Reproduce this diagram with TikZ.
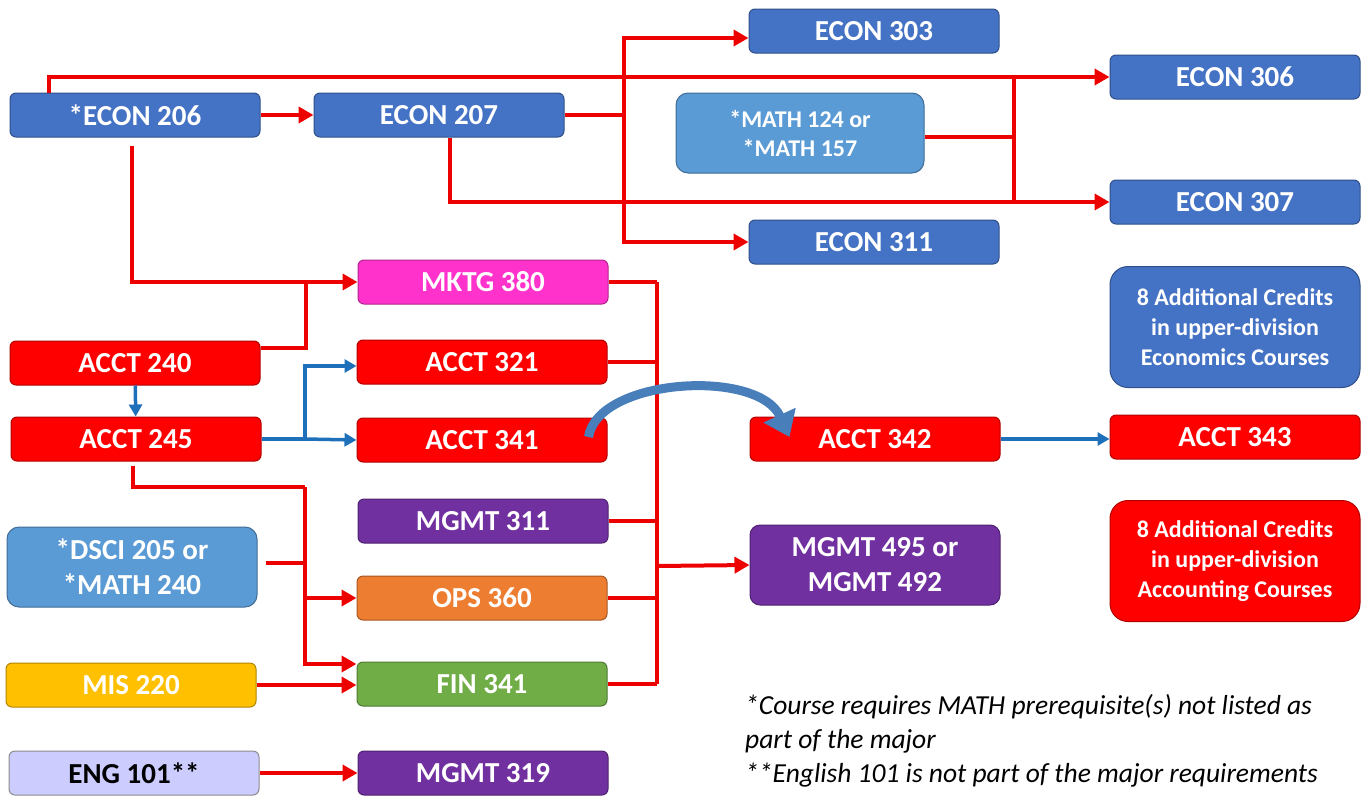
\documentclass[tikz,border=0pt]{standalone}
\usepackage{fontspec}
\setmainfont{Carlito}
\usetikzlibrary{arrows.meta,calc,positioning}
\definecolor{econColor}{RGB}{68,114,196}
\definecolor{mathColor}{RGB}{91,155,213}
\definecolor{acctColor}{RGB}{255,0,0}
\definecolor{mktgColor}{RGB}{255,51,204}
\definecolor{mgmtColor}{RGB}{112,48,160}
\definecolor{opsColor}{RGB}{237,125,49}
\definecolor{misColor}{RGB}{255,192,0}
\definecolor{finColor}{RGB}{112,173,71}
\definecolor{engColor}{RGB}{204,204,255}
\definecolor{redLineColor}{RGB}{236,0,0}
\definecolor{blueLineColor}{RGB}{30,112,186}
\definecolor{curveColor}{RGB}{72,126,186}

\begin{document}
\begin{tikzpicture}[x=1pt, y=-1pt,
course/.style={
    draw=#1!70!black, fill=#1, line width=1pt, rounded corners=6pt,
    minimum width=250pt, minimum height=44pt, inner sep=2pt,
    text=white, align=center,
    font=\fontsize{29}{35}\selectfont\bfseries},
twoline/.style={
    minimum height=80pt, rounded corners=12pt},
credits/.style={
    minimum height=121pt, rounded corners=18pt,
    font=\fontsize{24}{30}\selectfont\bfseries},
smalltext/.style={
    font=\fontsize{24}{29}\selectfont\bfseries},
redline/.style={draw=redLineColor, line width=4pt},
redarrow/.style={redline, -{Triangle[length=15pt, width=16pt]}},
blueline/.style={draw=blueLineColor, line width=3.5pt},
bluearrow/.style={blueline, -{Triangle[length=12pt, width=13pt]}}
]

\useasboundingbox (0,0) rectangle (1365,798);

% economics
\node[course=econColor] (econ206) at (135,115) {*ECON 206};
\node[course=econColor] (econ207) at (439,115) {ECON 207};
\node[course=econColor] (econ303) at (874,31) {ECON 303};
\node[course=econColor] (econ306) at (1235,77) {ECON 306};
\node[course=mathColor, twoline, smalltext, minimum width=248pt]
                                    (math124) at (800,133) {*MATH 124 or\\{}*MATH 157};
\node[course=econColor] (econ307) at (1235,202) {ECON 307};
\node[course=econColor] (econ311) at (874,242) {ECON 311};
\node[course=econColor, credits] (addEcon) at (1235,327)
        {8 Additional Credits\\in upper-division\\Economics Courses};

% accounting and business core
\node[course=mktgColor] (mktg380) at (483,282) {MKTG 380};
\node[course=acctColor] (acct240) at (135,363) {ACCT 240};
\node[course=acctColor] (acct321) at (482,362) {ACCT 321};
\node[course=acctColor] (acct245) at (136,439) {ACCT 245};
\node[course=acctColor] (acct341) at (482,440) {ACCT 341};
\node[course=acctColor] (acct342) at (875,439) {ACCT 342};
\node[course=acctColor] (acct343) at (1235,437) {ACCT 343};
\node[course=mgmtColor] (mgmt311) at (483,521) {MGMT 311};
\node[course=mathColor, twoline] (dsci205) at (132,567) {*DSCI 205 or\\{}*MATH 240};
\node[course=mgmtColor, twoline, rounded corners=10pt]
                                    (mgmt495) at (875,565) {MGMT 495 or\\MGMT 492};
\node[course=acctColor, credits] (addAcct) at (1235,561)
        {8 Additional Credits\\in upper-division\\Accounting Courses};
\node[course=opsColor] (ops360) at (482,598) {OPS 360};
\node[course=misColor] (mis220) at (131,685) {MIS 220};
\node[course=finColor] (fin341) at (482,684) {FIN 341};
\node[course=engColor, text=black, draw=black!45] (eng101) at (134,773) {ENG 101**};
\node[course=mgmtColor] (mgmt319) at (483,773) {MGMT 319};

\node[anchor=west, align=left, inner sep=0pt,
      font=\fontsize{27.5}{34}\selectfont\itshape]
        (notes) at (745,741)
        {*Course requires MATH prerequisite(s) not listed as\\part of the major\\{}**English 101 is not part of the major requirements};

% junctions
\coordinate (econBus) at (624,115);
\coordinate (mathBus) at (1014,137);
\coordinate (mktgJoin) at (306,282);
\coordinate (acctBus) at (305,439);
\coordinate (opsBus) at (305,487);
\coordinate (coreBus) at (657,566);
\coordinate (dsciOut) at ($(dsci205.east)+(8,-4)$);

% econ lines
\draw[redarrow] (econ206) -- (econ207);
\draw[redarrow] ($(econ206.north west)+(39,0)$) |- (econ306.west);
\draw[redline] (econ207.east) -- (econBus);
\draw[redarrow] (econBus) |- ($(econ303.west)+(0,7)$);
\draw[redarrow] (econBus) |- (econ311.west);
\draw[redarrow] ($(econ207.south)+(11,0)$) |- (econ307.west);
\draw[redline] (math124.east |- mathBus) -- (mathBus);
\draw[redline] (mathBus |- econ306) -- (mathBus |- econ307);

% core lines
\draw[redarrow] ($(econ206.south)+(-3,8)$) |- (mktg380.west);
\draw[redline] ($(acct240.east)+(0,-15)$) -| (mktgJoin);
\foreach \c in {mktg380, acct321, mgmt311, ops360, fin341}
    \draw[redline] (\c.east) -- (\c.east -| coreBus);
\draw[redline] (coreBus |- mktg380) -- (coreBus |- fin341);
\draw[redarrow] (coreBus) -- (mgmt495.west);

\draw[redline] ($(acct245.south)+(-3,4)$) |- (opsBus);
\draw[redarrow] (opsBus) |- ($(fin341.west)+(0,-20)$);
\draw[redarrow] (opsBus |- ops360) -- (ops360.west);
\draw[redline] (dsciOut) -- (dsciOut -| opsBus);
\draw[redarrow] (mis220.east) -- (mis220.east -| fin341.west);
\draw[redarrow] (eng101) -- (mgmt319);

% accounting sequence
\draw[bluearrow] (acct240) -- (acct245);
\draw[blueline] (acct245.east) -- (acctBus);
\draw[bluearrow] (acctBus) |- ($(acct321.west)+(0,4)$);
\draw[bluearrow] (acctBus) -- (acct341.west);
\draw[bluearrow] (acct342.east) -- (acct342.east -| acct343.west);
\draw[curveColor, line width=9pt, -{Triangle[length=24pt, width=34pt]}]
        ($(acct341.east)+(-19,-3)$) .. controls (598,378) and (758,368) ..
        ($(acct342.west)+(40,-2)$);

\end{tikzpicture}
\end{document}
